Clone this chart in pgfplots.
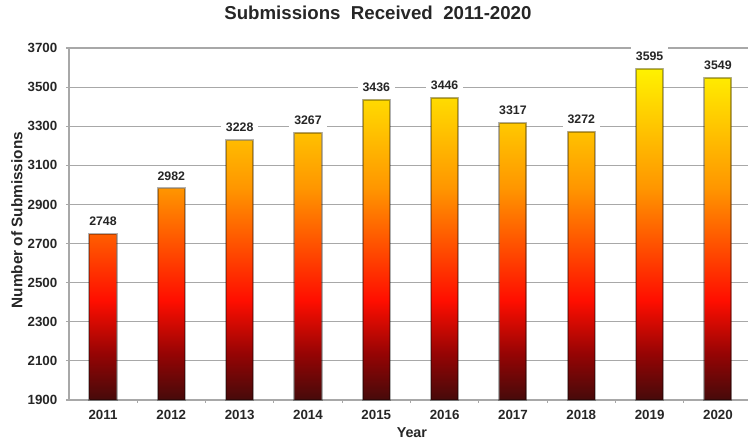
\documentclass[border=0pt]{standalone}
\usepackage{fontspec}
\setmainfont{Liberation Sans}
\usepackage{pgfplots}
\usepackage{pgfplotstable}
\pgfplotsset{compat=1.18}
\definecolor{b0}{RGB}{70,10,10}
\definecolor{b1}{RGB}{150,4,4}
\definecolor{b2}{RGB}{255,14,0}
\definecolor{b3}{RGB}{255,150,0}
\definecolor{b4}{RGB}{255,242,0}
\pgfdeclareverticalshading{barshade}{100bp}{color(0bp)=(b0); color(25bp)=(b0); color(32bp)=(b1); color(40bp)=(b2); color(57bp)=(b3); color(75bp)=(b4); color(100bp)=(b4)}
\definecolor{gridgray}{RGB}{168,168,168}
\pgfplotstableread{
x year v
0 2011 2748
1 2012 2982
2 2013 3228
3 2014 3267
4 2015 3436
5 2016 3446
6 2017 3317
7 2018 3272
8 2019 3595
9 2020 3549
}\data
\begin{document}
\begin{tikzpicture}
\begin{axis}[name=ax, scale only axis, width=509.25pt, height=264pt,
  xmin=-0.4976, xmax=9.44, ymin=0, ymax=1800,
  axis x line*=bottom, axis y line*=left,
  axis line style={gridgray, line width=0.9pt},
  ymajorgrids, major grid style={gridgray, line width=0.9pt},
  ytick={0,200,...,1800},
  yticklabels={1900,2100,2300,2500,2700,2900,3100,3300,3500,3700},
  xtick={0,...,9},
  xticklabels={2011,2012,2013,2014,2015,2016,2017,2018,2019,2020},
  minor x tick num=1,
  major x tick style={draw=none},
  minor x tick style={draw=gridgray, line width=0.8pt},
  ytick style={draw=gridgray, line width=0.8pt},
  tick align=outside, major tick length=2.25pt, minor tick length=2.25pt,
  yticklabel style={font=\fontsize{10}{11}\selectfont\bfseries, text=black!85, anchor=east, xshift=-3pt},
  xticklabel style={font=\fontsize{10}{11}\selectfont\bfseries, text=black!85, anchor=center, yshift=-9pt},
  title={Submissions\ \ Received\ \ 2011-2020},
  title style={font=\fontsize{14}{16}\selectfont\bfseries, text=black!85, at={(axis description cs:0.455,1)}, anchor=center, yshift=20.25pt},
  ylabel={Number of Submissions},
  ylabel style={font=\fontsize{11.5}{13}\selectfont\bfseries, text=black!85, at={(axis description cs:-0.0766,0.511)}, anchor=center},
  xlabel={Year},
  xlabel style={font=\fontsize{10.75}{12}\selectfont\bfseries, text=black!85, at={(axis description cs:0.505,-0.094)}, anchor=center},
  clip=false,
]
\addplot[ybar, bar width=20.3pt, shade, shading=barshade, draw=black, draw opacity=0.3, line width=1.5pt,
  point meta=explicit symbolic,
  nodes near coords,
  nodes near coords style={font=\fontsize{9.25}{10}\selectfont\bfseries, text=black!85, fill=white, inner xsep=3.75pt, inner ysep=4.25pt, anchor=south, yshift=1.2pt}]
  table[x=x, y expr=\thisrow{v}-1900, meta=v] {\data};
\end{axis}
\pgfresetboundingbox
\path[use as bounding box] ([xshift=-51.75pt,yshift=-30.75pt]ax.south west) rectangle ([yshift=36pt]ax.north east);
\end{tikzpicture}
\end{document}
